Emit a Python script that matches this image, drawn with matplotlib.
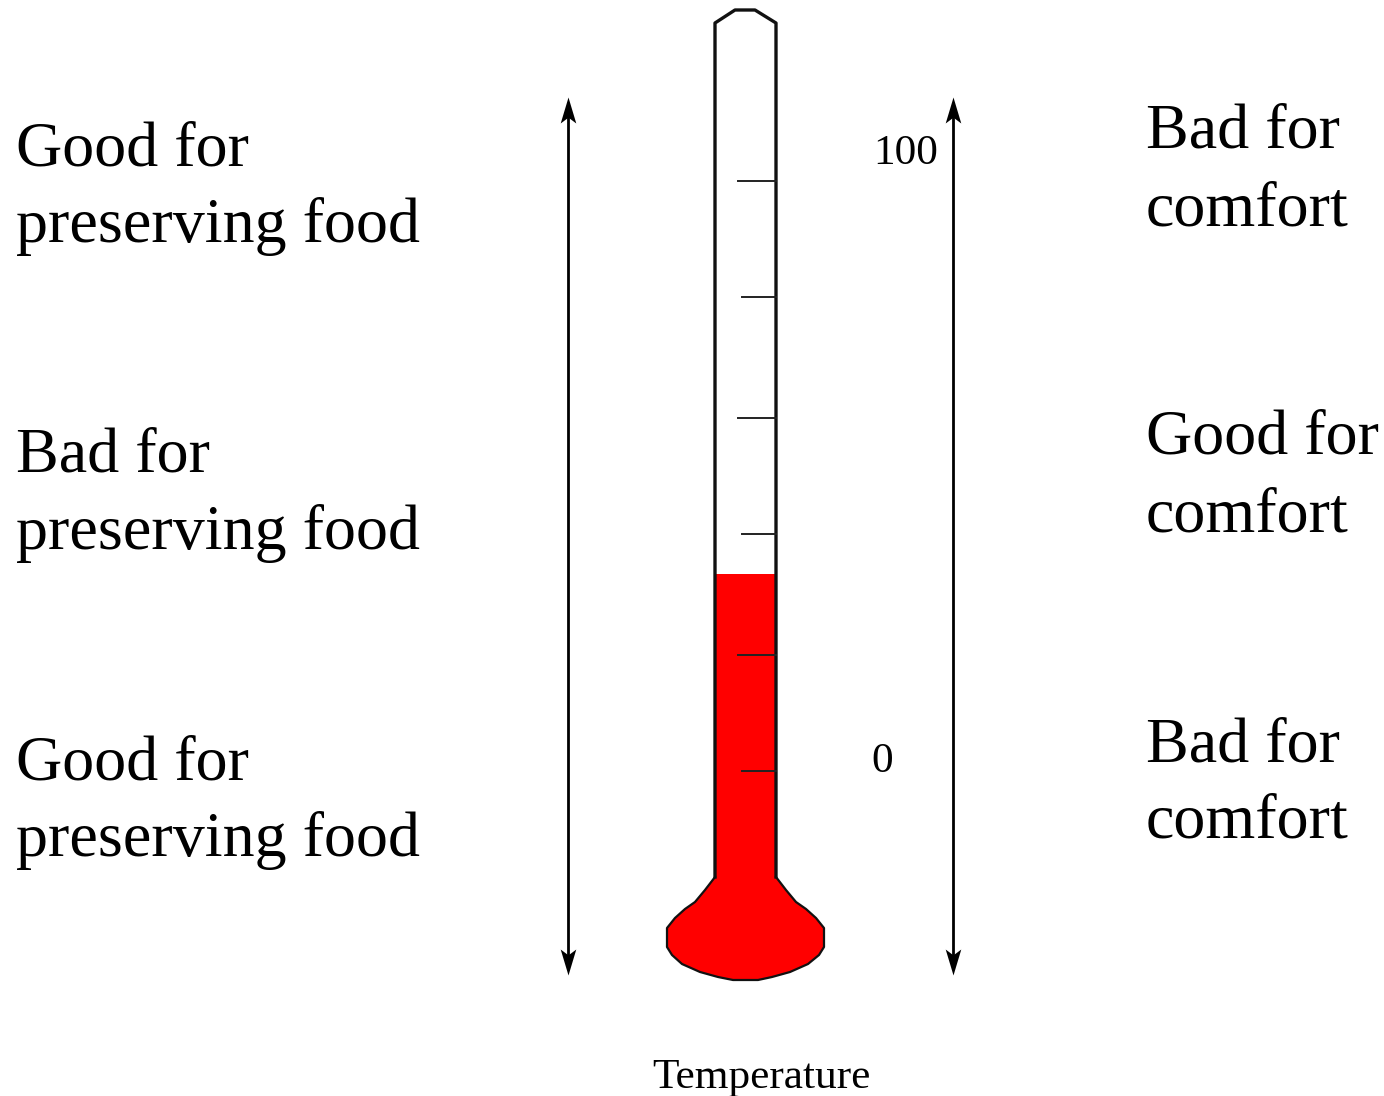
import matplotlib.pyplot as plt
from matplotlib.patches import Polygon
from matplotlib.path import Path

plt.rcParams['font.family'] = ['Liberation Serif', 'DejaVu Serif']

# thermometer outline, in picture pixels
tube_x = [715, 715, 735, 755, 776, 776]
tube_y = [877, 23, 10, 10, 23, 877]
bulb_x = [776, 786, 796, 806, 816, 824, 824, 819, 808, 790, 772, 758, 733, 718, 700, 682, 672, 667, 667, 675, 685, 695, 705, 715]
bulb_y = [877, 890, 902, 909, 918, 928, 947, 955, 964, 972, 977, 980, 980, 977, 972, 964, 955, 947, 928, 918, 909, 902, 890, 877]
level = 574

tick_y = [181, 297, 418, 534, 655, 771]
tick_x = [738, 742, 738, 742, 738, 742]

arrow_x = [568, 953]
arrow_top = 97
arrow_bottom = 975

left_labels = ["Good for\npreserving food", "Bad for\npreserving food", "Good for\npreserving food"]
left_first_line = [165, 472, 779]
right_labels = ["Bad for\ncomfort", "Good for\ncomfort", "Bad for\ncomfort"]
right_first_line = [148, 454, 761]
line_gap = 77

scale_labels = ["100", "0"]
scale_x = [873, 871]
scale_y = [164, 772]

fig = plt.figure(figsize=(13.84, 10.96), dpi=100)
ax = fig.add_axes([0, 0, 1, 1])
ax.set_xlim(0, 1384)
ax.set_ylim(1096, 0)
ax.axis('off')

# red part first, then the outline on top
red = list(zip([715, 776], [level, level])) + list(zip(bulb_x, bulb_y))
ax.add_patch(Polygon(red, closed=True, facecolor='#ff0000', edgecolor='none', zorder=1))
ax.plot(tube_x, tube_y, color='#111111', lw=2.4, zorder=2, solid_joinstyle='round')
ax.plot(bulb_x, bulb_y, color='#111111', lw=1.6, zorder=2)

for y, x in zip(tick_y, tick_x):
    ax.plot([x, 776], [y, y], color='#222222', lw=1.4, zorder=3)

# notched arrow heads
head_up = Path([(0, 1), (0.6, -1), (0, -0.55), (-0.6, -1), (0, 1)], closed=True)
head_down = Path([(0, -1), (0.6, 1), (0, 0.55), (-0.6, 1), (0, -1)], closed=True)
for x in arrow_x:
    ax.plot([x, x], [arrow_top + 15, arrow_bottom - 15], color='black', lw=2)
    ax.plot(x, arrow_top + 13, marker=head_up, ms=18.7, color='black', mew=0)
    ax.plot(x, arrow_bottom - 13, marker=head_down, ms=18.7, color='black', mew=0)

for label, y in zip(left_labels, left_first_line):
    first, second = label.split("\n")
    ax.text(15.5, y, first, fontsize=46.1, va='baseline', ha='left')
    ax.text(15.5, y + line_gap, second, fontsize=46.1, va='baseline', ha='left')

for label, y in zip(right_labels, right_first_line):
    first, second = label.split("\n")
    ax.text(1145.5, y, first, fontsize=46.1, va='baseline', ha='left')
    ax.text(1145.5, y + line_gap, second, fontsize=46.1, va='baseline', ha='left')

for label, x, y in zip(scale_labels, scale_x, scale_y):
    ax.text(x, y, label, fontsize=31.2, va='baseline', ha='left')

ax.text(652, 1088, "Temperature", fontsize=31.2, va='baseline', ha='left')

fig.savefig("out.png", dpi=100)
